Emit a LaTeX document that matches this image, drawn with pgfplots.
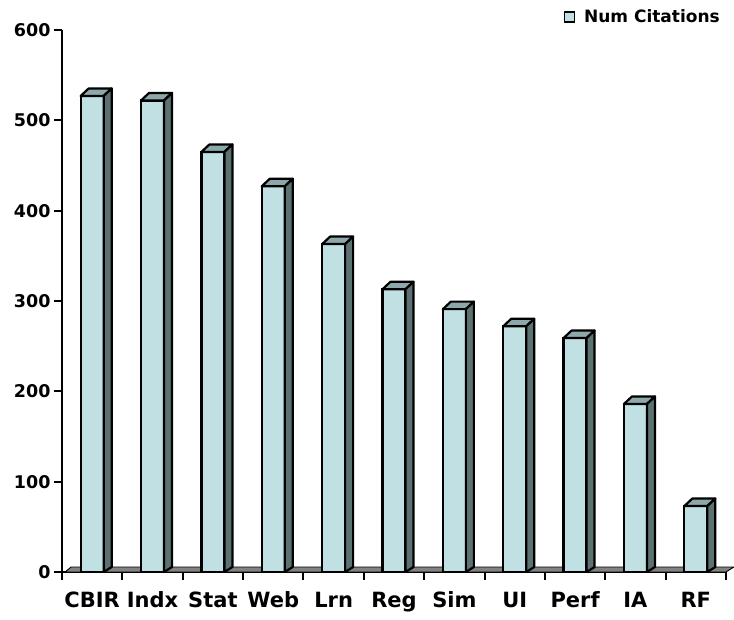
\documentclass[border=0pt]{standalone}
\usepackage{fontspec}
\setmainfont{DejaVu Sans}
\usepackage{pgfplots}
\pgfplotsset{compat=1.18}
\usepackage{pgfplotstable}
\usetikzlibrary{calc}
\definecolor{frontc}{RGB}{192,224,228}
\definecolor{sidec}{RGB}{92,114,114}
\definecolor{topc}{RGB}{140,168,170}
\definecolor{floorc}{RGB}{130,130,130}
\newdimen\hhd
\newdimen\hhb
\pgfplotstableread{
idx val
0 527
1 522
2 465
3 427
4 363
5 313
6 291
7 272
8 259
9 186
10 73
}\cites
\begin{document}
\begin{tikzpicture}
\begin{axis}[
  name=ax,
  scale only axis, width=664pt, height=542pt,
  xmin=-0.5, xmax=10.5, ymin=0, ymax=600,
  clip=false,
  axis x line*=bottom, axis y line*=left,
  x axis line style={-, line width=2pt},
  y axis line style={-, line width=2pt},
  tick align=outside,
  ytick={0,100,...,600},
  xtick={0,...,10},
  xticklabels={CBIR,Indx,Stat,Web,Lrn,Reg,Sim,UI,Perf,IA,RF},
  minor xtick={-0.5,0.5,...,10.5},
  major x tick style={draw=none},
  minor x tick style={line width=2pt, black},
  major tick length=8pt, minor tick length=8pt,
  ytick style={line width=2pt, black},
  /pgf/number format/assume math mode=true,
  yticklabel style={font=\bfseries\fontsize{17.5}{17.5}\selectfont},
  xticklabel style={font=\bfseries\fontsize{21}{21}\selectfont, yshift=-8.5pt},
  legend style={draw=none, fill=none, font=\bfseries\fontsize{17}{17}\selectfont,
    at={(1,1)}, anchor=east, xshift=-4pt, yshift=13pt, inner sep=0pt,
    /tikz/every odd column/.append style={column sep=7pt}},
  legend image code/.code={\draw[fill=frontc, line width=1.5pt] (0pt,-5pt) rectangle (10pt,5pt);},
]
% floor
\addplot[forget plot, fill=floorc, draw=black, line width=0.9pt]
  coordinates {(-0.45,0) (10.5,0) (10.63,5.5) (-0.35,5.5)} -- cycle;
% front faces
\addplot[ybar, bar width=23pt, fill=frontc, draw=black, line width=2.2pt]
  table[x=idx, y=val] {\cites};
\addlegendentry{Num Citations}
% top and side faces
\addplot[forget plot, only marks, scatter, mark=*, mark size=0.01pt,
  mark options={draw=none, fill=none},
  visualization depends on={\thisrow{val} \as \bv},
  scatter/@pre marker code/.code={%
    \pgfscope
    \pgfmathsetmacro\hh{\bv*0.90333}%
    \hhd=\hh pt\relax
    \hhb=\dimexpr 5pt-\hhd\relax
    \hhd=-\hhd
    \pgfsetlinewidth{2.2pt}\pgfsetroundjoin
    \pgfsetstrokecolor{black}%
    \pgfsetfillcolor{topc}%
    \pgfpathmoveto{\pgfqpoint{-11.5pt}{0pt}}%
    \pgfpathlineto{\pgfqpoint{-3.5pt}{7.5pt}}%
    \pgfpathlineto{\pgfqpoint{19.5pt}{7.5pt}}%
    \pgfpathlineto{\pgfqpoint{11.5pt}{0pt}}%
    \pgfpathclose
    \pgfusepath{fill,stroke}%
    \pgfsetfillcolor{sidec}%
    \pgfpathmoveto{\pgfqpoint{11.5pt}{0pt}}%
    \pgfpathlineto{\pgfqpoint{19.5pt}{7.5pt}}%
    \pgfpathlineto{\pgfqpoint{19.5pt}{\hhb}}%
    \pgfpathlineto{\pgfqpoint{11.5pt}{\hhd}}%
    \pgfpathclose
    \pgfusepath{fill,stroke}%
    \endpgfscope
  },
  scatter/@post marker code/.code={},
] table[x=idx, y=val] {\cites};
\end{axis}
\pgfresetboundingbox
\path ($(ax.south west)+(-62pt,-48pt)$) rectangle ($(ax.north east)+(8pt,30pt)$);
\end{tikzpicture}
\end{document}
